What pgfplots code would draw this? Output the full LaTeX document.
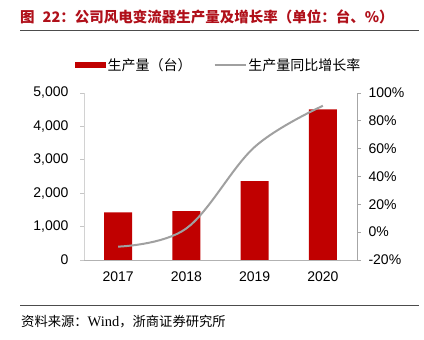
\documentclass[border=0pt]{standalone}
\usepackage{fontspec}
\setmainfont{Liberation Sans}
\newfontfamily\cjk{Noto Sans CJK SC}
\newfontfamily\serifw{Liberation Serif}
\usepackage{pgfplots}
\pgfplotsset{compat=1.18}
\definecolor{barred}{HTML}{C00000}
\definecolor{linegray}{HTML}{A0A0A0}
\definecolor{titlered}{HTML}{B0101A}
\begin{document}
\begin{tikzpicture}
\useasboundingbox (0,0) rectangle (424bp,340bp);
\node[anchor=west, inner sep=0pt, text=titlered, font=\fontsize{14.5bp}{16bp}\selectfont\cjk\bfseries] at (20bp,323bp) {图\hspace{8bp}22：公司风电变流器生产量及增长率（单位：台、\%）};
\draw[draw=black!70, line width=0.9bp] (20bp,310bp) -- (419bp,310bp);
\draw[draw=black!70, line width=0.9bp] (20bp,35bp) -- (419bp,35bp);
\node[anchor=west, inner sep=0pt, font=\fontsize{13.3bp}{15bp}\selectfont\cjk] at (21bp,18bp) {资料来源：{\fontsize{14.5bp}{15bp}\selectfont\serifw Wind}，浙商证券研究所};
\begin{axis}[
  at={(84bp,80bp)}, anchor=south west, scale only axis,
  width=273bp, height=167bp,
  xmin=-0.5, xmax=3.5, ymin=0, ymax=5000,
  xtick={0,1,2,3}, xticklabels={2017,2018,2019,2020},
  ytick={0,1000,2000,3000,4000,5000},
  axis y line*=left, axis x line*=bottom,
  x axis line style={-, draw=gray!60, line width=0.8bp},
  y axis line style={-, draw=gray!35, line width=0.8bp},
  xtick style={draw=none},
  ytick style={draw=gray!45, line width=0.8bp},
  tick align=outside, major tick length=4bp,
  ticklabel style={font=\fontsize{14bp}{16bp}\selectfont},
  /pgf/number format/assume math mode=true,
  /pgf/number format/1000 sep={,},
  scaled y ticks=false,
  yticklabel style={xshift=-8bp},
  xticklabel style={yshift=-4bp},
  legend style={at={(0.5,1)}, anchor=center, xshift=-2bp, yshift=28bp, draw=none, fill=none,
    font=\fontsize{14bp}{16bp}\selectfont\cjk, legend columns=2,
    /tikz/every even column/.append style={column sep=20bp}},
  legend cell align=left,
  clip=false,
]
\addplot[fill=barred, draw=none, ybar, bar width=28bp,
  legend image code/.code={\fill[barred] (0bp,-3bp) rectangle (31bp,3bp);}]
  coordinates {(0,1428) (1,1467) (2,2365) (3,4512)};
\addlegendentry{生产量（台）}
\addlegendimage{line width=2bp, color=linegray, legend image code/.code={\draw[line width=2bp, linegray] (0bp,0bp) -- (31bp,0bp);}}
\addlegendentry{生产量同比增长率}
\end{axis}
\begin{axis}[
  at={(84bp,80bp)}, anchor=south west, scale only axis,
  width=273bp, height=167bp,
  xmin=-0.5, xmax=3.5, ymin=-20, ymax=100,
  ytick={-20,0,20,40,60,80,100},
  axis y line*=right, axis x line=none,
  y axis line style={-, draw=gray!70, line width=0.8bp},
  ytick style={draw=gray!70, line width=0.8bp},
  tick align=outside, major tick length=4bp,
  ticklabel style={font=\fontsize{14bp}{16bp}\selectfont},
  /pgf/number format/assume math mode=true,
  yticklabel={\pgfmathprintnumber{\tick}\%},
  yticklabel style={xshift=4bp},
  clip=false,
]
\addplot[line width=2bp, color=linegray, smooth, tension=0.6]
  coordinates {(0,-10.4) (1,2.7) (2,61.2) (3,90.8)};
\end{axis}
\end{tikzpicture}
\end{document}
